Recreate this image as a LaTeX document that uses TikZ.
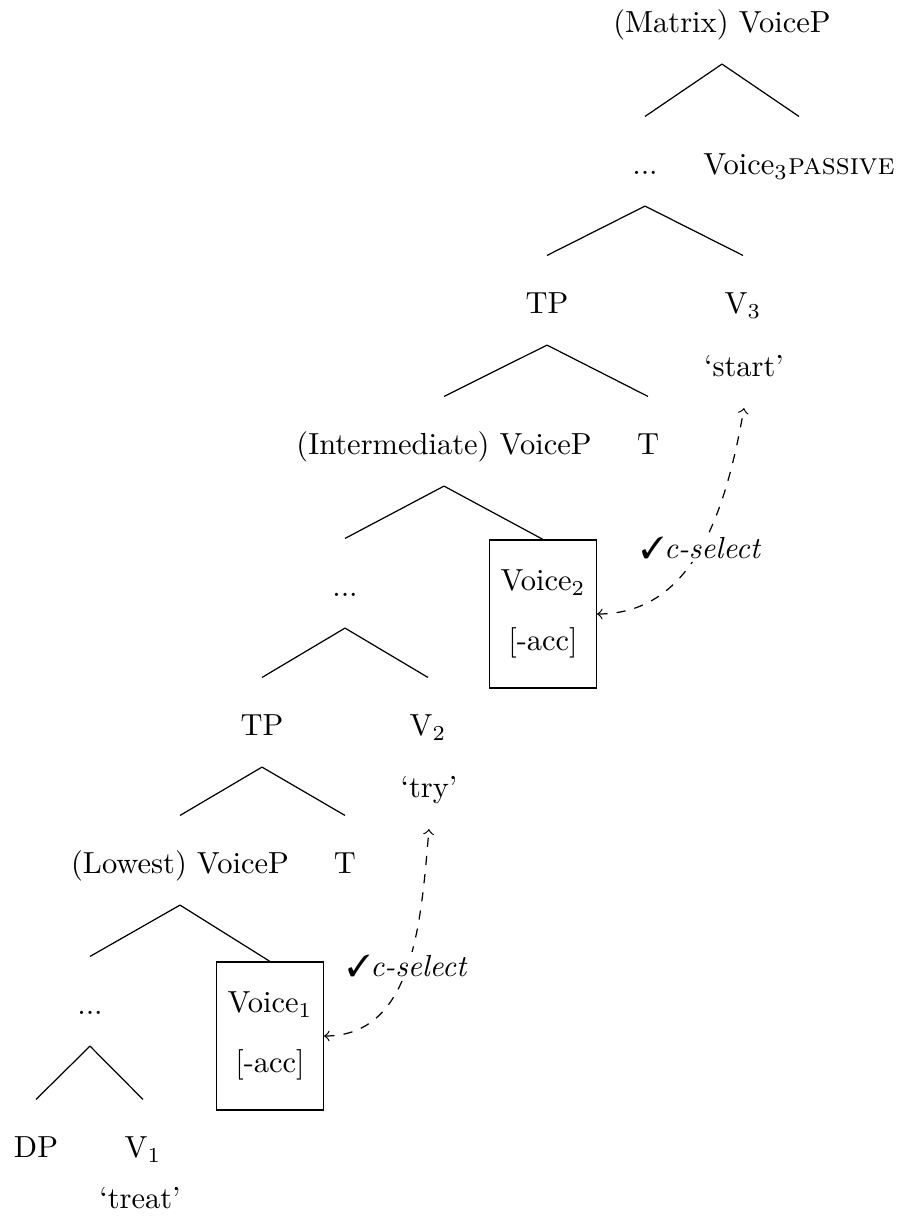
\documentclass[tikz,border=0pt]{standalone}
\usepackage{pifont}

\begin{document}
\begin{tikzpicture}[x=0.328pt,y=0.328pt,
  lab/.style={anchor=base,inner sep=0pt,text height=19pt,text depth=10pt},
  headbox/.style={draw,align=center,minimum width=35pt,minimum height=48.5pt},
  csel/.style={<->,dashed},
  sel/.style={fill=white,inner sep=1pt}]
\useasboundingbox (0,0) rectangle (901,1226);
\node[lab] (mvp) at (722,1193) {(Matrix) VoiceP};
\node[lab] (dotsC) at (645,1051) {...};
\node[lab] (voiceC) at (799,1051) {Voice$_3$\textsc{passive}};
\node[lab] (tpB) at (547,912) {TP};
\node[lab] (vC) at (743,912) {V$_3$};
\node[lab] (glC) at (744,849) {`start'};
\node[lab] (ivp) at (444,771) {(Intermediate) VoiceP};
\node[lab] (tB) at (648,771) {T};
\node[lab] (dotsB) at (345,629) {...};
\node[headbox] (boxB) at (543,612) {Voice$_2$\\[7.5pt][-acc]};
\node[lab] (tpA) at (262,490) {TP};
\node[lab] (vB) at (428,490) {V$_2$};
\node[lab] (glB) at (429,428) {`try'};
\node[lab] (lvp) at (180,352) {(Lowest) VoiceP};
\node[lab] (tA) at (345,352) {T};
\node[lab] (dotsA) at (90,211) {...};
\node[headbox] (boxA) at (270,190) {Voice$_1$\\[7.5pt][-acc]};
\node[lab] (dp) at (36,68) {DP};
\node[lab] (vA) at (143,68) {V$_1$};
\node[lab] (glA) at (140,18) {`treat'};
\draw (mvp.south) -- (dotsC.north);
\draw (mvp.south) -- (voiceC.north);
\draw (dotsC.south) -- (tpB.north);
\draw (dotsC.south) -- (vC.north);
\draw (tpB.south) -- (ivp.north);
\draw (tpB.south) -- (tB.north);
\draw (ivp.south) -- (dotsB.north);
\draw (ivp.south) -- (boxB.north);
\draw (dotsB.south) -- (tpA.north);
\draw (dotsB.south) -- (vB.north);
\draw (tpA.south) -- (lvp.north);
\draw (tpA.south) -- (tA.north);
\draw (lvp.south) -- (dotsA.north);
\draw (lvp.south) -- (boxA.north);
\draw (dotsA.south) -- (dp.north);
\draw (dotsA.south) -- (vA.north);
\draw[csel] (boxB.east) to[out=0,in=-100] node[sel]{\ding{51}\textit{c-select}} (glC.south);
\draw[csel] (boxA.east) to[out=0,in=-95] node[sel]{\ding{51}\textit{c-select}} (glB.south);
\end{tikzpicture}
\end{document}
